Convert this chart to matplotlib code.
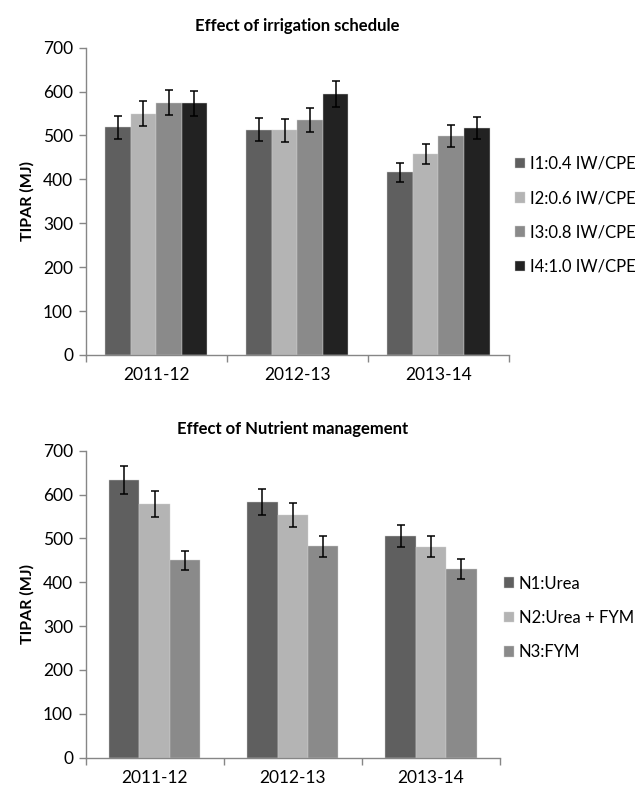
import numpy as np
import matplotlib
matplotlib.use('Agg')
import matplotlib.pyplot as plt

plt.rcParams['font.family'] = ['Lato', 'DejaVu Sans']

years = ['2011-12', '2012-13', '2013-14']

# irrigation schedule
irr_labels = ['I1:0.4 IW/CPE', 'I2:0.6 IW/CPE', 'I3:0.8 IW/CPE', 'I4:1.0 IW/CPE']
irr_vals = [[519, 513, 416],
            [550, 512, 457],
            [575, 536, 498],
            [573, 595, 517]]
irr_err = [[26, 26, 21],
           [28, 26, 23],
           [29, 27, 25],
           [29, 30, 26]]

# nutrient management
nut_labels = ['N1:Urea', 'N2:Urea + FYM', 'N3:FYM']
nut_vals = [[634, 583, 506],
            [579, 553, 481],
            [450, 482, 430]]
nut_err = [[32, 30, 25],
           [30, 28, 24],
           [22, 24, 22]]

grays4 = ['#5f5f5f', '#b4b4b4', '#8a8a8a', '#222222']
grays3 = ['#5f5f5f', '#b4b4b4', '#8a8a8a']

W, H = 639, 791
fig = plt.figure(figsize=(W / 100, H / 100), dpi=100)


def draw(ax, vals, errs, labels, colors, width, title, leg_x, leg_y):
    x = np.arange(len(years))
    n = len(vals)
    for i in range(n):
        off = (i - (n - 1) / 2) * width
        ax.bar(x + off, vals[i], width, color=colors[i], label=labels[i],
               edgecolor='#d0d0d0', linewidth=0.3,
               yerr=errs[i], capsize=2.9,
               error_kw=dict(ecolor='black', elinewidth=1.1, capthick=1.1))
    ax.set_xlim(-0.5, 2.5)
    ax.set_ylim(0, 700)
    ax.set_yticks(range(0, 701, 100))
    ax.set_xticks(x)
    ax.set_xticklabels(years)
    ax.set_xticks([-0.5, 0.5, 1.5, 2.5], minor=True)
    ax.tick_params(axis='x', which='major', length=0, pad=9, labelsize=12.5)
    ax.tick_params(axis='x', which='minor', length=5, color='#868686', width=1)
    ax.tick_params(axis='y', length=5, color='#868686', width=1, pad=4,
                   labelsize=12.5)
    for s in ['top', 'right']:
        ax.spines[s].set_visible(False)
    for s in ['left', 'bottom']:
        ax.spines[s].set_color('#868686')
        ax.spines[s].set_linewidth(1)
    ax.set_ylabel('TIPAR (MJ)', fontweight='bold', fontsize=11.5, labelpad=6)
    ax.set_title(title, fontweight='bold', fontsize=12, pad=12)
    ax.legend(loc='center left', bbox_to_anchor=(leg_x / W, 1 - leg_y / H),
              bbox_transform=fig.transFigure,
              frameon=False, fontsize=12, handlelength=0.6,
              handleheight=0.6, handletextpad=0.3, labelspacing=1.1,
              borderpad=0, borderaxespad=0)


ax1 = fig.add_axes([85.6 / W, 1 - 355 / H, (509 - 85.6) / W, (355 - 47.7) / H])
draw(ax1, irr_vals, irr_err, irr_labels, grays4, 0.181,
     'Effect of irrigation schedule', 515, 215.3)

ax2 = fig.add_axes([85.6 / W, 1 - 757.7 / H, (500 - 85.6) / W, (757.7 - 450.7) / H])
draw(ax2, nut_vals, nut_err, nut_labels, grays3, 0.22,
     'Effect of Nutrient management', 504, 618)

fig.savefig('out.png', dpi=100)
